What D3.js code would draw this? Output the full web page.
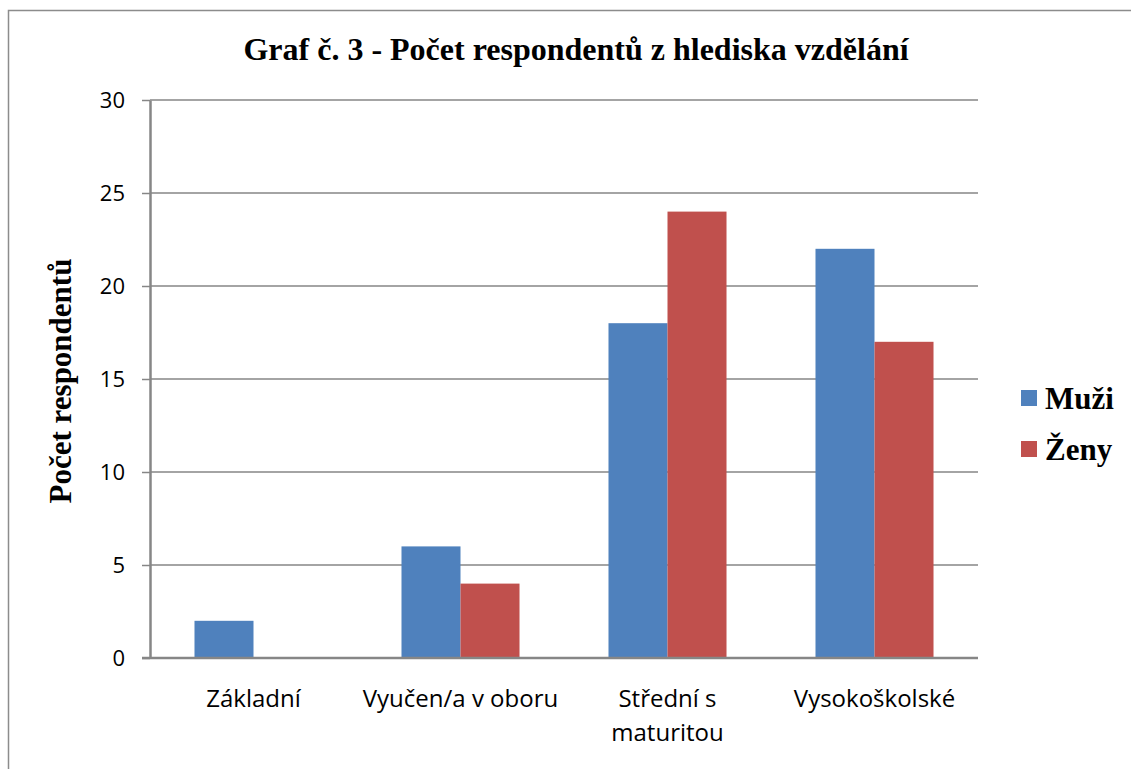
<!DOCTYPE html>
<html>
<head>
<meta charset="utf-8">
<script src="https://cdn.jsdelivr.net/npm/d3@7"></script>
<style>
  body { margin: 0; background: #fff; }
</style>
</head>
<body>
<div id="chart"></div>
<script>
// data
const categories = ["Základní", "Vyučen/a v oboru", "Střední s maturitou", "Vysokoškolské"];
const series = ["Muži", "Ženy"];
const muzi = [2, 6, 18, 22];
const zeny = [0, 4, 24, 17];
const yTicks = [0, 5, 10, 15, 20, 25, 30];

const W = 1131, H = 769;
const margin = { top: 100, right: 153, bottom: 111, left: 150 };
const wdt = W - margin.left - margin.right,
  ht = H - margin.top - margin.bottom;

const serif = "Liberation Serif, Times New Roman, serif";
const sans = "Open Sans, sans-serif";

const colors = d3.scaleOrdinal().domain(series).range(["#4F81BD", "#C0504D"]);

const svg = d3.select("#chart")
  .append("svg")
  .attr("width", W)
  .attr("height", H);

// outer frame (runs off the right and bottom edge like the original)
svg.append("rect")
  .attr("x", 8.5).attr("y", 10.5)
  .attr("width", 1200).attr("height", 1000)
  .attr("fill", "none")
  .attr("stroke", "#8c8c8c")
  .attr("stroke-width", 1.5);

const g = svg.append("g")
  .attr("transform", `translate(${margin.left}, ${margin.top})`);

const x = d3.scaleBand().domain(categories).range([0, wdt]);
const x1 = d3.scaleBand().domain(series).range([0, x.bandwidth()]).paddingOuter(0.754).paddingInner(0);
const y = d3.scaleLinear().domain([0, 30]).range([ht, 0]);

// gridlines
g.selectAll(".grid")
  .data(yTicks.slice(1))
  .join("line")
  .attr("x1", 0).attr("x2", wdt)
  .attr("y1", d => y(d)).attr("y2", d => y(d))
  .attr("stroke", "#868686")
  .attr("stroke-width", 1.5);

// bars
const rows = categories.map((c, i) => ({ cat: c, values: [muzi[i], zeny[i]] }));
const grp = g.selectAll(".grp")
  .data(rows)
  .join("g")
  .attr("transform", d => `translate(${x(d.cat)},0)`);

grp.selectAll("rect")
  .data(d => d.values.map((v, j) => ({ key: series[j], value: v })))
  .join("rect")
  .attr("x", d => x1(d.key))
  .attr("y", d => y(d.value))
  .attr("width", x1.bandwidth())
  .attr("height", d => ht - y(d.value))
  .attr("fill", d => colors(d.key));

// y axis
const yAxis = g.append("g")
  .call(d3.axisLeft(y).tickValues(yTicks).tickSize(8).tickSizeOuter(0).tickPadding(17));
yAxis.select(".domain").attr("stroke", "#868686").attr("stroke-width", 2.5);
yAxis.selectAll(".tick line").attr("stroke", "#868686").attr("stroke-width", 1.5);
yAxis.selectAll(".tick text")
  .attr("font-family", sans)
  .attr("font-size", "22px")
  .attr("dy", "0.34em")
  .attr("fill", "#000");

// x axis baseline
g.append("line")
  .attr("x1", -8).attr("x2", wdt)
  .attr("y1", ht).attr("y2", ht)
  .attr("stroke", "#868686")
  .attr("stroke-width", 2.5);

// category labels (wrapped like the original)
const catLines = {
  "Základní": ["Základní"],
  "Vyučen/a v oboru": ["Vyučen/a v oboru"],
  "Střední s maturitou": ["Střední s", "maturitou"],
  "Vysokoškolské": ["Vysokoškolské"]
};
g.selectAll(".cat")
  .data(categories)
  .join("text")
  .attr("x", d => x(d) + x.bandwidth() / 2)
  .attr("y", ht + 49)
  .attr("text-anchor", "middle")
  .attr("font-family", sans)
  .attr("font-size", "24px")
  .attr("fill", "#000")
  .each(function (d) {
    d3.select(this).selectAll("tspan")
      .data(catLines[d])
      .join("tspan")
      .attr("x", x(d) + x.bandwidth() / 2)
      .attr("dy", (t, i) => i === 0 ? 0 : 34)
      .text(t => t);
  });

// title
svg.append("text")
  .attr("x", 576)
  .attr("y", 60)
  .attr("text-anchor", "middle")
  .attr("font-family", serif)
  .attr("font-weight", "bold")
  .attr("font-size", "32px")
  .text("Graf č. 3 - Počet respondentů z hlediska vzdělání");

// y axis title
svg.append("text")
  .attr("transform", "translate(71, 381) rotate(-90)")
  .attr("text-anchor", "middle")
  .attr("font-family", serif)
  .attr("font-weight", "bold")
  .attr("font-size", "31px")
  .text("Počet respondentů");

// legend
const legend = svg.append("g")
  .attr("transform", "translate(1021, 390)");
const li = legend.selectAll("g")
  .data(series)
  .join("g")
  .attr("transform", (d, i) => `translate(0, ${i * 51})`);
li.append("rect")
  .attr("width", 16).attr("height", 16)
  .attr("fill", d => colors(d));
li.append("text")
  .attr("x", 24)
  .attr("y", 19)
  .attr("font-family", serif)
  .attr("font-weight", "bold")
  .attr("font-size", "31px")
  .text(d => d);
</script>
</body>
</html>
